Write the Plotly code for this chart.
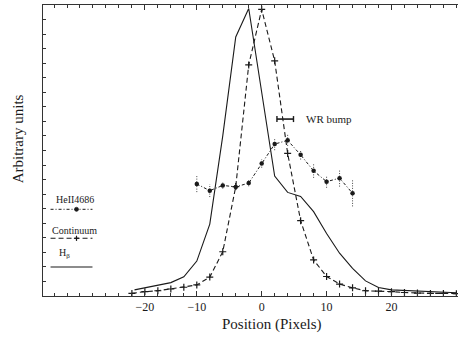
import plotly.graph_objects as go

# ---------------- data ----------------
hb_x = [-19.6, -14, -12, -10, -8, -6, -4, -2, 2, 4, 6, 8, 10, 12, 14, 16, 18, 20, 30]
hb_y = [0.021, 0.046, 0.066, 0.120, 0.247, 0.55, 0.89, 0.988, 0.412, 0.356, 0.342,
        0.290, 0.215, 0.147, 0.095, 0.052, 0.029, 0.021, 0.011]

cont_x = [-20, -18, -16, -14, -12, -10, -8, -6, -4, -2, 0, 2, 4, 6, 8, 10, 12, 14,
          16, 18, 20, 22, 24, 26, 28, 30]
cont_y = [0.009, 0.015, 0.018, 0.024, 0.030, 0.038, 0.065, 0.152, 0.376, 0.794, 0.985,
          0.808, 0.490, 0.259, 0.124, 0.067, 0.041, 0.028, 0.018, 0.017, 0.015, 0.012,
          0.010, 0.009, 0.009, 0.008]

he_x = [-10, -8, -6, -4, -2, 0, 2, 4, 6, 8, 10, 12, 14]
he_y = [0.385, 0.362, 0.380, 0.375, 0.388, 0.455, 0.522, 0.535, 0.485, 0.430, 0.393,
        0.405, 0.353]
he_err = [0.028, 0.022, 0.011, 0.011, 0.011, 0.014, 0.021, 0.019, 0.016, 0.024, 0.021,
          0.029, 0.045]

wr_range = [2.35, 4.9]
wr_level = 0.608

x_tickvals = [-18, -10, 0, 10, 20]
x_ticktext = ["\u221220", "\u221210", "0", "10", "20"]

# ---------------- figure ----------------
INK = "#1a1a1a"
FONT = "Liberation Serif, Times New Roman, serif"

fig = go.Figure()

fig.add_trace(go.Scatter(x=hb_x, y=hb_y, mode="lines",
                         line=dict(color=INK, width=1.1), showlegend=False))

fig.add_trace(go.Scatter(x=cont_x, y=cont_y, mode="lines+markers",
                         line=dict(color=INK, width=1.1, dash="5px,3px"),
                         marker=dict(symbol="cross-thin", size=5,
                                     line=dict(color=INK, width=1.2)),
                         showlegend=False))

# dotted error bars for HeII
eb_x, eb_y = [], []
for xv, yv, ev in zip(he_x, he_y, he_err):
    eb_x += [xv, xv, None]
    eb_y += [yv - ev, yv + ev, None]
fig.add_trace(go.Scatter(x=eb_x, y=eb_y, mode="lines",
                         line=dict(color="#444", width=1, dash="1px,1.5px"),
                         showlegend=False))

fig.add_trace(go.Scatter(x=he_x, y=he_y, mode="lines+markers",
                         line=dict(color=INK, width=1, dash="3px,2px,1px,2px"),
                         marker=dict(symbol="circle", size=4.5, color=INK),
                         showlegend=False))

# ---------------- annotations / legend drawn by hand ----------------
def px2x(px):
    return (px - 261.5) / 6.5

def px2y(py):
    return (296 - py) / 291

shapes = []
annots = []

# WR bump bar
cap = 3 / 291
shapes.append(dict(type="line", x0=wr_range[0], x1=wr_range[1], y0=wr_level, y1=wr_level,
                   line=dict(color=INK, width=1.6)))
for xv in wr_range:
    shapes.append(dict(type="line", x0=xv, x1=xv, y0=wr_level - cap, y1=wr_level + cap,
                       line=dict(color=INK, width=1.4)))
annots.append(dict(x=px2x(304), y=wr_level, text="WR bump", showarrow=False,
                   xanchor="left", yanchor="middle",
                   font=dict(family=FONT, size=11, color=INK)))

# legend samples
lx0, lx1, lm = px2x(50), px2x(92), px2x(76)
y_he, y_co, y_hb = px2y(209.3), px2y(238.3), px2y(267)
shapes.append(dict(type="line", x0=lx0, x1=lx1, y0=y_he, y1=y_he,
                   line=dict(color=INK, width=1, dash="3px,2px,1px,2px")))
shapes.append(dict(type="circle", x0=lm - 0.32, x1=lm + 0.32, y0=y_he - 2.1 / 291,
                   y1=y_he + 2.1 / 291, fillcolor=INK, line=dict(color=INK, width=0.5)))
shapes.append(dict(type="line", x0=lx0, x1=lx1, y0=y_co, y1=y_co,
                   line=dict(color=INK, width=1.1, dash="5px,3px")))
shapes.append(dict(type="line", x0=lm - 0.4, x1=lm + 0.4, y0=y_co, y1=y_co,
                   line=dict(color=INK, width=1.2)))
shapes.append(dict(type="line", x0=lm, x1=lm, y0=y_co - 2.6 / 291, y1=y_co + 2.6 / 291,
                   line=dict(color=INK, width=1.2)))
shapes.append(dict(type="line", x0=lx0, x1=lx1, y0=y_hb, y1=y_hb,
                   line=dict(color=INK, width=1.1)))

annots.append(dict(x=px2x(74), y=px2y(199.5), text="HeII4686", showarrow=False,
                   xanchor="center", yanchor="middle",
                   font=dict(family=FONT, size=10, color=INK)))
annots.append(dict(x=px2x(74), y=px2y(230.5), text="Continuum", showarrow=False,
                   xanchor="center", yanchor="middle",
                   font=dict(family=FONT, size=10, color=INK)))
annots.append(dict(x=px2x(56.5), y=px2y(253), text="H<sub>\u03b2</sub>", showarrow=False,
                   xanchor="left", yanchor="middle",
                   font=dict(family=FONT, size=10, color=INK)))

# axis titles
annots.append(dict(xref="paper", yref="paper", x=(272 - 42.7) / 415.3, y=-(324 - 296) / 291,
                   text="Position (Pixels)", showarrow=False, xanchor="center",
                   yanchor="middle", font=dict(family=FONT, size=15, color=INK)))
annots.append(dict(xref="paper", yref="paper", x=-(42.7 - 18) / 415.3, y=(296 - 139) / 291,
                   text="Arbitrary units", showarrow=False, textangle=-90,
                   xanchor="center", yanchor="middle",
                   font=dict(family=FONT, size=15, color=INK)))

fig.update_layout(
    width=458, height=338,
    margin=dict(l=43, r=0, t=5, b=42, autoexpand=False),
    paper_bgcolor="white", plot_bgcolor="white",
    showlegend=False,
    shapes=shapes, annotations=annots,
    font=dict(family=FONT, color=INK),
)

fig.update_xaxes(
    range=[-33.7, 30.25], showgrid=False, zeroline=False, automargin=False,
    showline=True, linecolor="#333", linewidth=1, mirror="ticks",
    ticks="inside", ticklen=5, tickwidth=1, tickcolor="#333",
    tickmode="array", tickvals=x_tickvals, ticktext=x_ticktext,
    tickfont=dict(family=FONT, size=12, color=INK),
    minor=dict(ticks="inside", ticklen=3, tickwidth=1, tickcolor="#333",
               tickmode="linear", tick0=0, dtick=2),
)
fig.update_yaxes(
    range=[0, 1], showgrid=False, zeroline=False, automargin=False,
    showline=True, linecolor="#333", linewidth=1, mirror=False,
    ticks="inside", ticklen=3, tickwidth=1, tickcolor="#333",
    tickmode="linear", tick0=0, dtick=0.05, showticklabels=False,
)

fig.write_html(
    "out.html",
    config={"displayModeBar": False},
    post_script="document.body.style.margin='0px';document.body.style.padding='0px';",
)
